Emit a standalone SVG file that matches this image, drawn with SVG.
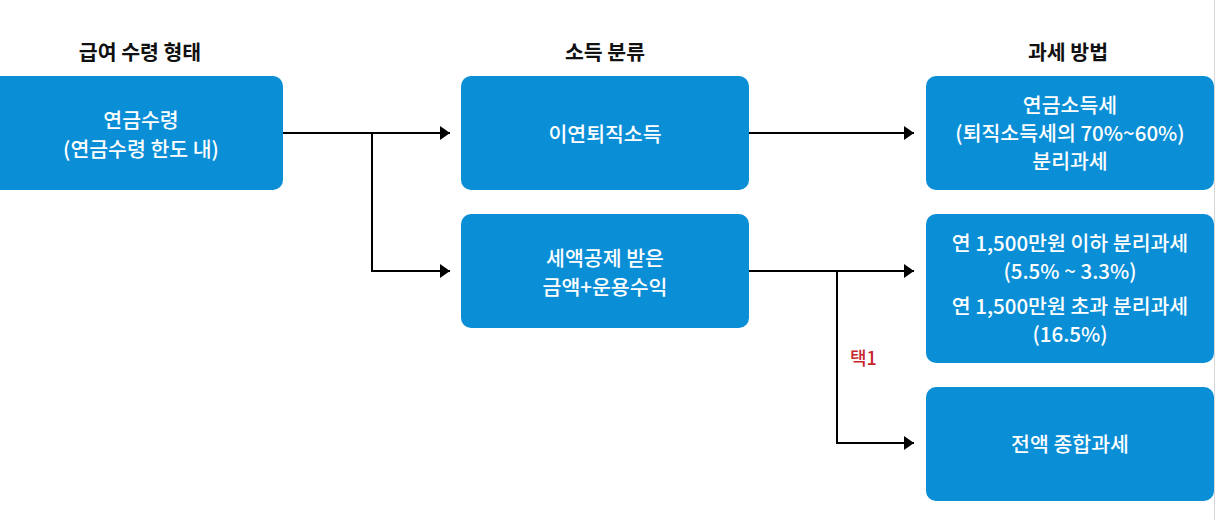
<svg xmlns="http://www.w3.org/2000/svg" width="1229" height="520" viewBox="0 0 1229 520">
<defs>
<style>
.box{fill:#0a8fd7;}
.t{font-family:"Noto Sans CJK KR","Noto Sans",sans-serif;font-size:20.5px;font-weight:500;fill:#fff;text-anchor:middle;dominant-baseline:central;}
.h{font-family:"Noto Sans CJK KR","Noto Sans",sans-serif;font-size:20.5px;font-weight:700;fill:#111;text-anchor:middle;dominant-baseline:central;}
.c{fill:none;stroke:#000;stroke-width:2;}
.r{font-family:"Noto Sans CJK KR","Noto Sans",sans-serif;font-size:18px;font-weight:500;fill:#c8262c;dominant-baseline:central;}
</style>
<marker id="ah" viewBox="0 0 10 14" refX="10" refY="7" markerWidth="10" markerHeight="14" markerUnits="userSpaceOnUse" orient="auto">
<path d="M0,0 L10,7 L0,14 Z" fill="#000"/>
</marker>
</defs>
<rect width="1229" height="520" fill="#fff"/>
<line x1="1214.5" y1="0" x2="1214.5" y2="520" stroke="#d8d8d8" stroke-width="1"/>
<g id="headers">
<text class="h" x="140" y="51">급여 수령 형태</text>
<text class="h" x="605" y="51">소득 분류</text>
<text class="h" x="1068" y="51">과세 방법</text>
</g>
<g id="connectors">
<path class="c" d="M283,133 H450" marker-end="url(#ah)"/>
<path class="c" d="M372,133 V271 H450" marker-end="url(#ah)"/>
<path class="c" d="M749,133 H914" marker-end="url(#ah)"/>
<path class="c" d="M749,271 H914" marker-end="url(#ah)"/>
<path class="c" d="M837,271 V443 H914" marker-end="url(#ah)"/>
<text class="r" x="850" y="357">택1</text>
</g>
<g id="n1">
<rect class="box" x="-10" y="76" width="293" height="114" rx="10"/>
<text class="t" x="141" y="119">연금수령</text>
<text class="t" x="141" y="148">(연금수령 한도 내)</text>
</g>
<g id="n2">
<rect class="box" x="461" y="76" width="288" height="114" rx="10"/>
<text class="t" x="605" y="133">이연퇴직소득</text>
</g>
<g id="n3">
<rect class="box" x="461" y="214" width="288" height="114" rx="10"/>
<text class="t" x="605" y="257">세액공제 받은</text>
<text class="t" x="605" y="286">금액+운용수익</text>
</g>
<g id="n4">
<rect class="box" x="926" y="76" width="288" height="114" rx="10"/>
<text class="t" x="1070" y="104">연금소득세</text>
<text class="t" x="1070" y="132">(퇴직소득세의 70%~60%)</text>
<text class="t" x="1070" y="160">분리과세</text>
</g>
<g id="n5">
<rect class="box" x="926" y="214" width="288" height="149" rx="10"/>
<text class="t" x="1070" y="242">연 1,500만원 이하 분리과세</text>
<text class="t" x="1070" y="270">(5.5% ~ 3.3%)</text>
<text class="t" x="1070" y="305">연 1,500만원 초과 분리과세</text>
<text class="t" x="1070" y="333">(16.5%)</text>
</g>
<g id="n6">
<rect class="box" x="926" y="387" width="288" height="114" rx="10"/>
<text class="t" x="1070" y="443">전액 종합과세</text>
</g>
</svg>
